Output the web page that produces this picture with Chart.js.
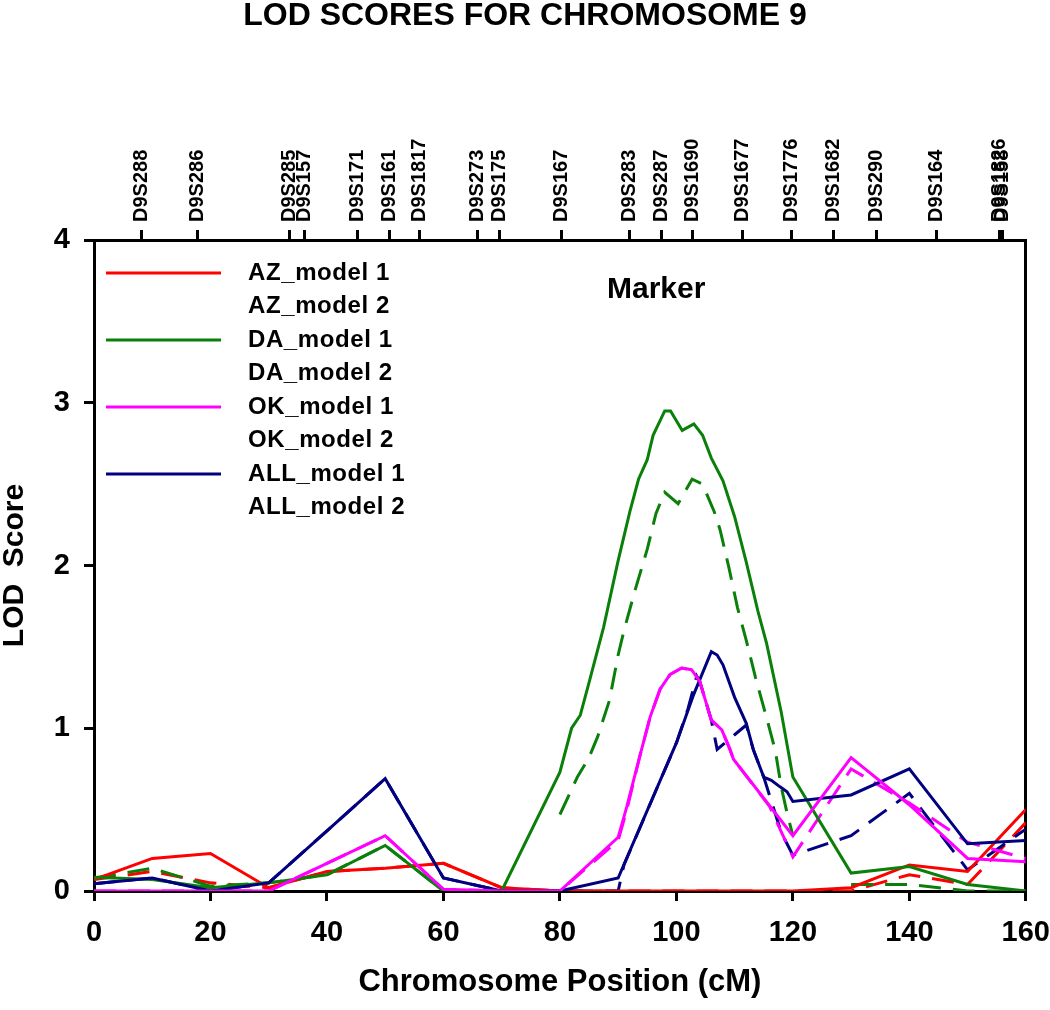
<!DOCTYPE html>
<html><head><meta charset="utf-8">
<script src="https://cdn.jsdelivr.net/npm/chart.js@4"></script>
<style>html,body{margin:0;padding:0;background:#fff}</style>
</head><body>
<canvas id="c" width="1050" height="1010" style="display:block;width:1050px;height:1010px"></canvas>
<script>
// ---- data ----
const xTicks = [0, 20, 40, 60, 80, 100, 120, 140, 160];
const yTicks = [0, 1, 2, 3, 4];
const markerNames = ['D9S288','D9S286','D9S285','D9S157','D9S171','D9S161','D9S1817','D9S273','D9S175','D9S167','D9S283','D9S287','D9S1690','D9S1677','D9S1776','D9S1682','D9S290','D9S164','D9S1826','D9S158'];
const markerPos = [8.2, 17.7, 33.6, 36.2, 45.3, 50.7, 55.9, 65.9, 69.7, 80.2, 91.9, 97.4, 102.7, 111.3, 119.7, 126.9, 134.4, 144.7, 155.5, 156.0];

const azM1X = [0,10,20,30,40,50,60,70,80,90,100,110,120,130,140,150,160];
const azM1Y = [0.07,0.20,0.23,0.02,0.12,0.14,0.17,0.02,0,0,0,0,0,0.02,0.16,0.12,0.50];
const azM2X = [0,10,20,30,40,50,60,70,80,90,100,110,120,130,140,150,160];
const azM2Y = [0.07,0.12,0.05,0.02,0.12,0.14,0.17,0.02,0,0,0,0,0,0.0,0.10,0.04,0.42];

const daM1X = [0,10,20,30,40,50,60,70,80,82,83.5,85,87.5,90,92,93.5,95,96,98,99,101,103,104.5,106,108,110,112,114,115.5,118,120,130,140,150,160];
const daM1Y = [0.085,0.07,0.02,0.05,0.10,0.28,0.0,0.0,0.73,1.0,1.08,1.28,1.62,2.03,2.33,2.53,2.65,2.8,2.95,2.95,2.83,2.87,2.8,2.66,2.52,2.3,2.02,1.72,1.52,1.1,0.7,0.11,0.15,0.04,0.0];
const daM2X = [0,10,20,30,40,50,60,70,80,83,85,86.5,88.5,90,91,93,95,96.5,98,100.3,102.7,104.5,106.5,107.5,109,110.5,112,113.6,115.6,117,118,119,120,121,130,140,150,160];
const daM2Y = [0.08,0.14,0.03,0.05,0.10,0.28,0.0,null,0.47,0.70,0.82,0.95,1.17,1.45,1.6,1.86,2.1,2.32,2.45,2.38,2.53,2.5,2.33,2.22,1.99,1.74,1.54,1.31,1.05,0.86,0.64,0.48,0.34,null,0.04,0.04,0.0,0.0];

const okM1X = [0,10,20,30,40,50,60,70,80,90,91.5,93.8,95.5,97.2,98.9,100.9,102.6,104,106,107.8,109.2,109.8,120,130,140,150,160];
const okM1Y = [0,0,0,0,0.17,0.34,0.01,0,0,0.33,0.52,0.84,1.07,1.24,1.33,1.37,1.36,1.29,1.05,0.99,0.87,0.81,0.34,0.82,0.53,0.2,0.18];
const okM2X = [0,10,20,30,40,50,60,70,80,90,91.5,93.8,95.5,97.2,98.9,100.9,102.6,104,106,107.8,109.2,109.8,116,120,130,140,150,160];
const okM2Y = [0,0,0,0,0.17,0.34,0.01,0,0,0.31,0.5,0.84,1.07,1.24,1.33,1.37,1.36,1.29,1.05,0.99,0.87,0.81,0.52,0.21,0.75,0.54,0.3,0.2];

const allM1X = [0,10,20,30,40,50,60,70,80,90,100,103,106,107,108,110,112,113.2,115,116.3,117.8,119,120,130,140,150,160];
const allM1Y = [0.045,0.08,0.0,0.05,0.37,0.69,0.08,0.0,0.0,0.08,0.91,1.21,1.47,1.45,1.39,1.19,1.03,0.87,0.70,0.68,0.64,0.61,0.55,0.59,0.75,0.29,0.31];
const allM2X = [0,10,20,30,40,50,60,70,80,90,91,100,102,103.5,104,106,107,110,112,113.2,115,118,120,130,140,150,160];
const allM2Y = [0.045,0.08,0.0,0.05,0.37,0.69,0.08,0.0,0.0,0.0,0.16,0.91,1.12,1.32,1.29,1.05,0.87,0.96,1.02,0.87,0.70,0.36,0.22,0.34,0.6,0.13,0.38];

const legendLabels = ['AZ_model 1','AZ_model 2','DA_model 1','DA_model 2','OK_model 1','OK_model 2','ALL_model 1','ALL_model 2'];

// ---- build ----
const FONT = '"Liberation Sans", Arial, Helvetica, sans-serif';
const pts = (xs, ys) => xs.map((x, i) => ({x: x, y: ys[i]}));
const RED = '#ff0000', GREEN = '#0a800a', MAG = '#ff00ff', NAVY = '#000080';
const DASH = [22, 12];

function ds(label, xs, ys, color, dashed, order) {
  return {
    label: label, data: pts(xs, ys), borderColor: color, backgroundColor: color,
    borderWidth: 3, pointRadius: 0, tension: 0, fill: false, spanGaps: false,
    borderDash: dashed ? DASH : [], order: order, xAxisID: 'x', yAxisID: 'y'
  };
}

const datasets = [
  ds('AZ_model 1', azM1X, azM1Y, RED, false, 3),
  ds('AZ_model 2', azM2X, azM2Y, RED, true, 13),
  ds('DA_model 1', daM1X, daM1Y, GREEN, false, 2),
  ds('DA_model 2', daM2X, daM2Y, GREEN, true, 12),
  ds('OK_model 1', okM1X, okM1Y, MAG, false, 0),
  ds('OK_model 2', okM2X, okM2Y, MAG, true, 10),
  ds('ALL_model 1', allM1X, allM1Y, NAVY, false, 1),
  ds('ALL_model 2', allM2X, allM2Y, NAVY, true, 11)
];

const insideLegend = {
  id: 'insideLegend',
  afterDatasetsDraw(chart) {
    const ctx = chart.ctx, a = chart.chartArea;
    ctx.save();
    ctx.textAlign = 'left';
    ctx.textBaseline = 'middle';
    ctx.fillStyle = '#000';
    legendLabels.forEach((lab, i) => {
      const d = chart.data.datasets.find(s => s.label === lab);
      const y = a.top + 33 + i * 33.5;
      if (!d.borderDash.length) {
        ctx.strokeStyle = d.borderColor;
        ctx.lineWidth = 3;
        ctx.setLineDash([]);
        ctx.beginPath();
        ctx.moveTo(a.left + 12, y);
        ctx.lineTo(a.left + 127, y);
        ctx.stroke();
      }
      ctx.font = 'bold 24px ' + FONT;
      try { ctx.letterSpacing = '0.6px'; } catch (e) {}
      ctx.fillText(lab, a.left + 154, y);
    });
    try { ctx.letterSpacing = '0px'; } catch (e) {}
    ctx.font = 'bold 30px ' + FONT;
    ctx.fillText('Marker', a.left + 513, a.top + 50);
    ctx.restore();
  }
};

Chart.defaults.color = '#000';
Chart.defaults.font.family = FONT;

new Chart(document.getElementById('c'), {
  type: 'line',
  data: { datasets: datasets },
  options: {
    responsive: false, maintainAspectRatio: false, animation: false, events: [],
    layout: { padding: { left: 0, right: 0, top: 0, bottom: 0 } },
    plugins: {
      legend: { display: false },
      tooltip: { enabled: false },
      title: {
        display: true, text: 'LOD SCORES FOR CHROMOSOME 9', color: '#000',
        font: { size: 32, weight: 'bold', lineHeight: 1 },
        padding: { top: 0, bottom: 0 }
      }
    },
    scales: {
      x: {
        type: 'linear', position: 'bottom', min: 0, max: 160,
        afterBuildTicks: s => { s.ticks = xTicks.map(v => ({value: v})); },
        ticks: { font: { size: 29, weight: 'bold', lineHeight: 2.2 }, color: '#000', padding: 0, maxRotation: 0, autoSkip: false },
        grid: { display: true, drawOnChartArea: false, drawTicks: true, tickLength: 10, color: '#000', lineWidth: 3 },
        border: { display: true, color: '#000', width: 3 },
        title: { display: true, text: 'Chromosome Position (cM)', color: '#000',
                 font: { size: 31, weight: 'bold', lineHeight: 1 }, padding: { top: 0, bottom: 12 } },
        afterFit: s => { s.height = 119; }
      },
      top: {
        type: 'linear', position: 'top', min: 0, max: 160,
        afterBuildTicks: s => { s.ticks = markerPos.map(v => ({value: v})); },
        ticks: { font: { size: 20, weight: 'bold' }, color: '#000', padding: 8, labelOffset: 24,
                 minRotation: 90, maxRotation: 90, autoSkip: false,
                 callback: (v, i) => markerNames[i] },
        grid: { display: true, drawOnChartArea: false, drawTicks: true, tickLength: 10, color: '#000', lineWidth: 3 },
        border: { display: true, color: '#000', width: 3 },
        afterFit: s => { s.height = 208; }
      },
      y: {
        type: 'linear', position: 'left', min: 0, max: 4,
        afterBuildTicks: s => { s.ticks = yTicks.map(v => ({value: v})); },
        ticks: { font: { size: 29, weight: 'bold' }, color: '#000', padding: 14 },
        grid: { display: true, drawOnChartArea: false, drawTicks: true, tickLength: 10, color: '#000', lineWidth: 3 },
        border: { display: true, color: '#000', width: 3 },
        title: { display: true, text: 'LOD  Score', color: '#000',
                 font: { size: 30, weight: 'bold', lineHeight: 1 }, padding: { top: 0, bottom: 0 } },
        afterFit: s => { s.width = 94; }
      },
      right: {
        type: 'linear', position: 'right', min: 0, max: 4,
        ticks: { display: false },
        grid: { display: false },
        border: { display: true, color: '#000', width: 3 },
        afterFit: s => { s.width = 24; }
      }
    }
  },
  plugins: [insideLegend]
});
</script>
</body></html>
